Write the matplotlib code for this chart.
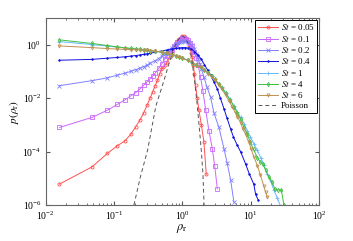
import matplotlib
matplotlib.use("Agg")
import matplotlib.pyplot as plt
from matplotlib.ticker import LogLocator, NullFormatter, NullLocator, FixedLocator

plt.rcParams['font.family'] = ['Liberation Serif', 'DejaVu Serif']
plt.rcParams['mathtext.fontset'] = 'stix'

# St = 0.05
x_005 = [0.016, 0.048, 0.08, 0.112, 0.144, 0.176, 0.208, 0.24, 0.272, 0.304, 0.336, 0.368,
         0.4, 0.432, 0.464, 0.496, 0.528, 0.56, 0.6, 0.65, 0.7, 0.75, 0.8, 0.85, 0.9, 0.95,
         1.0, 1.05, 1.1, 1.15, 1.2, 1.25, 1.3, 1.35, 1.4, 1.45, 1.5, 1.56, 1.65, 1.75, 1.9,
         2.07, 2.24]
y_005 = [6.1e-6, 2.7e-5, 8.5e-5, 1.65e-4, 2.5e-4, 4.4e-4, 8.5e-4, 1.5e-3, 2.8e-3, 5.3e-3,
         9.7e-3, 0.017, 0.029, 0.046, 0.078, 0.12, 0.14, 0.17, 0.22, 0.35, 0.5, 0.78, 1.05,
         1.36, 1.65, 1.9, 2.05, 2.05, 1.9, 1.65, 1.35, 1.0, 0.75, 0.5, 0.33, 0.18, 0.08, 0.03,
         0.01, 3.5e-3, 1e-3, 2.2e-4, 1.4e-5]

# St = 0.1
x_01 = [0.016, 0.048, 0.08, 0.112, 0.144, 0.176, 0.208, 0.24, 0.272, 0.304, 0.336, 0.368,
        0.4, 0.45, 0.5, 0.55, 0.6, 0.65, 0.7, 0.75, 0.8, 0.85, 0.9, 0.95, 1.0, 1.05, 1.1,
        1.15, 1.2, 1.3, 1.4, 1.5, 1.6, 1.7, 1.85, 2.0, 2.2, 2.45, 2.74, 2.97, 3.25]
y_01 = [8e-4, 1.9e-3, 3.5e-3, 5.8e-3, 8.5e-3, 0.012, 0.016, 0.022, 0.03, 0.04, 0.052, 0.068,
        0.085, 0.13, 0.19, 0.28, 0.38, 0.5, 0.65, 0.85, 1.05, 1.25, 1.45, 1.6, 1.7, 1.72,
        1.68, 1.58, 1.45, 1.15, 0.85, 0.55, 0.32, 0.17, 0.06, 0.018, 3.5e-3, 6e-4, 1.3e-4,
        3e-5, 4e-6]

# St = 0.2
x_02 = [0.016, 0.048, 0.08, 0.112, 0.144, 0.176, 0.208, 0.24, 0.272, 0.304, 0.336, 0.4,
        0.45, 0.5, 0.55, 0.6, 0.65, 0.7, 0.75, 0.8, 0.85, 0.9, 0.95, 1.0, 1.05, 1.1, 1.2,
        1.3, 1.4, 1.5, 1.6, 1.7, 1.8, 1.9, 2.07, 2.3, 2.59, 2.9, 3.43, 4.06, 4.54, 5.08, 5.68]
y_02 = [0.029, 0.045, 0.057, 0.072, 0.085, 0.1, 0.115, 0.13, 0.15, 0.17, 0.2, 0.25, 0.3,
        0.37, 0.45, 0.55, 0.65, 0.77, 0.9, 1.0, 1.1, 1.2, 1.28, 1.33, 1.35, 1.33, 1.25, 1.1,
        0.95, 0.7, 0.45, 0.3, 0.19, 0.12, 0.062, 0.025, 0.011, 2.8e-3, 8e-4, 1.3e-4, 3.6e-5,
        8.8e-6, 1.3e-6]

# St = 0.4
x_04 = [0.016, 0.048, 0.08, 0.112, 0.144, 0.176, 0.208, 0.24, 0.272, 0.304, 0.336, 0.4,
        0.5, 0.6, 0.7, 0.8, 0.9, 1.0, 1.1, 1.2, 1.35, 1.5, 1.7, 1.9, 2.1, 2.35, 2.6, 2.9,
        3.25, 3.6, 4.06, 4.5, 5.08, 5.6, 6.3, 7.1, 8.4, 9.5, 11.1, 11.8, 12.8]
y_04 = [0.26, 0.28, 0.31, 0.33, 0.35, 0.37, 0.39, 0.41, 0.43, 0.45, 0.47, 0.52, 0.58, 0.63,
        0.68, 0.72, 0.75, 0.77, 0.77, 0.75, 0.68, 0.55, 0.4, 0.28, 0.18, 0.11, 0.07, 0.04,
        0.022, 0.01, 4e-3, 1.8e-3, 7e-4, 3.5e-4, 1.8e-4, 1e-4, 3.5e-5, 1.5e-5, 6e-6, 2.5e-6,
        1.6e-6]

# St = 1
x_1 = [0.016, 0.048, 0.08, 0.112, 0.144, 0.176, 0.208, 0.24, 0.272, 0.304, 0.336, 0.4,
       0.5, 0.6, 0.7, 0.8, 0.9, 1.0, 1.2, 1.4, 1.6, 1.85, 2.1, 2.4, 2.7, 3.0, 3.4, 3.8,
       4.3, 5.0, 5.7, 6.4, 7.1, 8.0, 8.9, 9.9, 11.1, 12.5, 14.0, 15.6, 17.5, 19.5, 21.9,
       24.5, 27.3]
y_1 = [1.3, 1.0, 0.88, 0.8, 0.75, 0.71, 0.68, 0.66, 0.64, 0.62, 0.6, 0.57, 0.52, 0.47, 0.42,
       0.38, 0.34, 0.31, 0.26, 0.21, 0.17, 0.14, 0.11, 0.085, 0.065, 0.05, 0.035, 0.025,
       0.016, 9e-3, 5e-3, 3e-3, 1.9e-3, 1.1e-3, 6e-4, 3.5e-4, 2e-4, 1.1e-4, 6e-5, 3.2e-5,
       1.5e-5, 8e-6, 3.6e-6, 1.8e-6, 9e-7]

# St = 4
x_4 = [0.016, 0.048, 0.08, 0.112, 0.144, 0.176, 0.208, 0.24, 0.272, 0.304, 0.336, 0.4,
       0.5, 0.6, 0.7, 0.8, 0.9, 1.0, 1.2, 1.4, 1.6, 1.85, 2.1, 2.4, 2.7, 3.0, 3.4, 3.8,
       4.3, 5.0, 5.7, 6.4, 7.1, 7.9, 8.9, 9.9, 11.0, 12.5, 13.9, 15.0, 16.5, 18.5, 20.6,
       22.5, 25.0, 28.0, 30.6]
y_4 = [1.5, 1.1, 0.92, 0.82, 0.76, 0.72, 0.69, 0.66, 0.64, 0.62, 0.6, 0.57, 0.52, 0.47,
       0.42, 0.38, 0.34, 0.31, 0.26, 0.21, 0.17, 0.14, 0.11, 0.085, 0.065, 0.05, 0.034,
       0.024, 0.015, 8.5e-3, 4.8e-3, 2.7e-3, 1.6e-3, 8.5e-4, 4.5e-4, 2.2e-4, 1.2e-4, 6e-5,
       4e-5, 3.5e-5, 2e-5, 1.1e-5, 7e-6, 4e-6, 3.7e-6, 3.7e-6, 1e-6]

# St = 6
x_6 = [0.016, 0.048, 0.08, 0.112, 0.144, 0.176, 0.208, 0.24, 0.272, 0.304, 0.336, 0.4,
       0.5, 0.6, 0.7, 0.8, 0.9, 1.0, 1.2, 1.4, 1.6, 1.85, 2.1, 2.4, 2.7, 3.0, 3.4, 3.8,
       4.3, 4.8, 5.4, 6.0, 6.4, 7.1, 7.7, 8.4, 9.4, 10.2, 11.1, 12.5, 13.9, 15.6, 16.5, 17.5]
y_6 = [0.89, 0.77, 0.71, 0.68, 0.66, 0.65, 0.64, 0.63, 0.62, 0.61, 0.6, 0.57, 0.52, 0.47,
       0.42, 0.38, 0.34, 0.31, 0.26, 0.21, 0.17, 0.14, 0.11, 0.083, 0.062, 0.046, 0.031,
       0.021, 0.013, 8e-3, 4.6e-3, 2.7e-3, 2e-3, 1.2e-3, 7e-4, 4.5e-4, 2.2e-4, 1.2e-4,
       6.5e-5, 3e-5, 1.3e-5, 5e-6, 3e-6, 2e-6]

# Poisson
x_poi = [0.196, 0.245, 0.31, 0.41, 0.54, 0.64, 0.75, 0.85, 0.95, 1.0, 1.1, 1.2, 1.3, 1.4,
         1.5, 1.6, 1.7, 1.8, 1.9, 2.0, 2.08]
y_poi = [1e-6, 1.2e-5, 1.1e-4, 5e-3, 0.046, 0.2, 0.7, 1.4, 2.0, 2.1, 1.8, 1.2, 0.6, 0.2,
         0.05, 0.012, 2.5e-3, 5e-4, 1e-4, 1.5e-5, 1e-6]

series = [
    (x_005, y_005, '0.05', '#ff5050', 'o'),
    (x_01, y_01, '0.1', '#cc66ff', 's'),
    (x_02, y_02, '0.2', '#8080ff', 'x'),
    (x_04, y_04, '0.4', '#1010e0', '.'),
    (x_1, y_1, '1', '#66b8ff', '+'),
    (x_4, y_4, '4', '#40c040', 'd'),
    (x_6, y_6, '6', '#c09050', 'v'),
]

fig = plt.figure(figsize=(3.53, 2.41), dpi=100)
ax = fig.add_axes([0.129, 0.149, 0.775, 0.777])

for xs, ys, st, c, m in series:
    mfc = 'none' if m in ('d', 'v', 'o', 's') else c
    ax.plot(xs, ys, color=c, lw=0.7, marker=m, ms=2.2, mew=0.6, mfc=mfc,
            label=r'$St$ = ' + st)
ax.plot(x_poi, y_poi, color='#555555', lw=0.7, ls=(0, (4, 3)), label='Poisson')

ax.set_xscale('log')
ax.set_yscale('log')
ax.set_xlim(1e-2, 1e2)
ax.set_ylim(1e-6, 1e1)
ax.yaxis.set_major_locator(FixedLocator([1e-6, 1e-4, 1e-2, 1e0]))
ax.yaxis.set_minor_locator(NullLocator())
ax.xaxis.set_minor_locator(LogLocator(base=10, subs=range(2, 10)))
ax.xaxis.set_minor_formatter(NullFormatter())
ax.tick_params(which='both', direction='in', top=True, right=True, labelsize=7,
               color='#555555', pad=3)
ax.tick_params(which='major', length=3)
ax.tick_params(which='minor', length=1.5)
for s in ax.spines.values():
    s.set_color('#666666')
    s.set_linewidth(0.8)

ax.set_xlabel(r'$\rho_\mathrm{r}$', fontsize=9, labelpad=0)
ax.set_ylabel(r'$p(\rho_\mathrm{r})$', fontsize=8, labelpad=1)

leg = ax.legend(loc='upper right', fontsize=6.5, frameon=True, fancybox=False,
                edgecolor='black', framealpha=1, handlelength=2.2, handletextpad=0.3,
                labelspacing=0.15, borderpad=0.3, borderaxespad=0.2)
leg.get_frame().set_linewidth(0.7)

fig.savefig('out.png', dpi=100)
